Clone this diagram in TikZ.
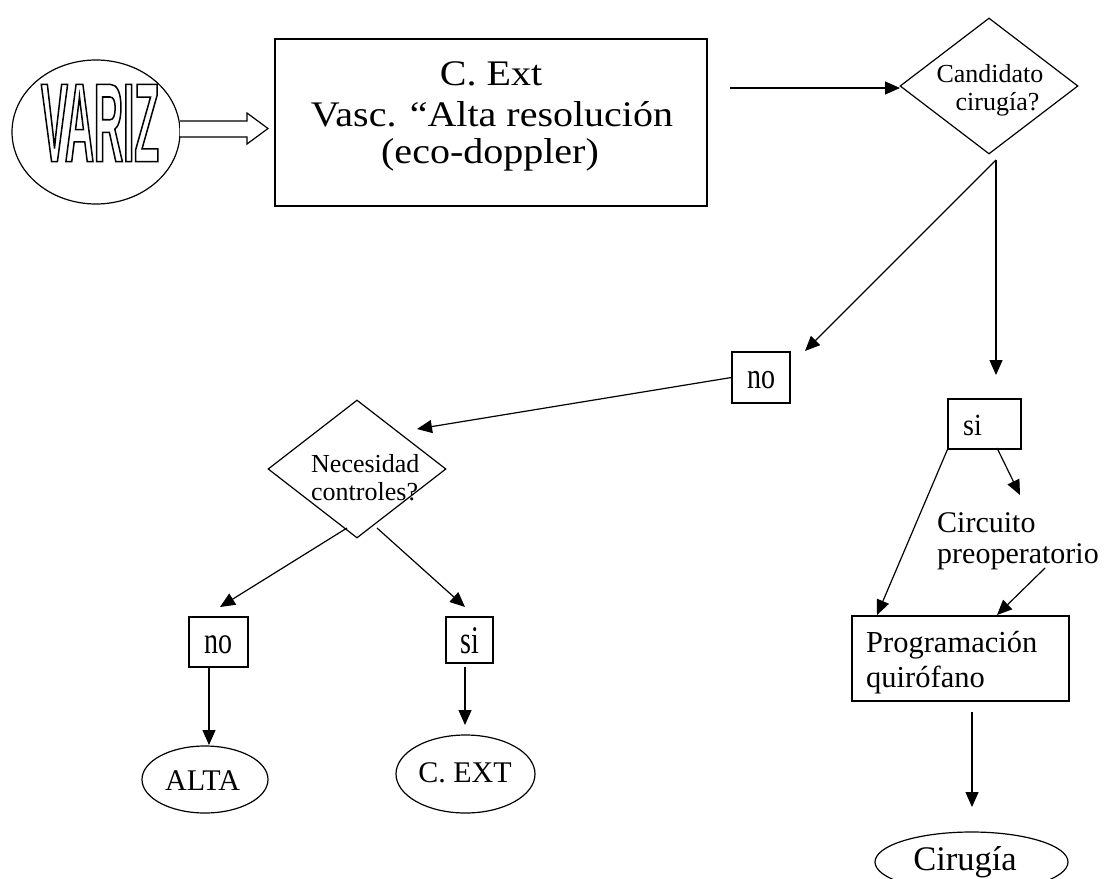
\documentclass[tikz,border=0pt]{standalone}
\usepackage{graphicx}
\usepackage{fontspec}
\setmainfont{Liberation Serif}
\newfontfamily\varizfont[FakeStretch=0.36]{Liberation Sans}
\usetikzlibrary{arrows.meta,shapes.geometric}
\newcommand{\fs}[1]{\fontsize{#1}{#1}\selectfont}
\newcommand{\vs}[2]{\scalebox{1}[#1]{#2}}
\tikzset{
  ln/.style={line width=1.2pt},
  arr/.style={ln,-{Triangle[length=15pt,width=13pt]}},
  box/.style={draw,ln,rectangle,inner sep=0pt},
  dia/.style={draw,ln,diamond,inner sep=0pt},
  ell/.style={draw,ln,ellipse,inner sep=0pt},
  txt/.style={inner sep=0pt,anchor=base},
  txtl/.style={inner sep=0pt,anchor=base west},
}
\begin{document}
\begin{tikzpicture}[x=1pt,y=-1pt]
\useasboundingbox (0,0) rectangle (1105,878);
\fill[white] (0,0) rectangle (1105,878);

% VARIZ
\node[ell,minimum width=168pt,minimum height=144pt] (variz) at (96,132) {};
\node[inner sep=0pt,text=white,font=\varizfont\bfseries\fontsize{112}{112}\selectfont] (vword) at (100,123)
  {\special{pdf:code 0 0 0 RG 1.5 w 2 Tr}VARIZ\special{pdf:code 0 Tr}};

% block arrow
\draw[ln,fill=white] (180,121) -- (247,121) -- (247,113) -- (268,128.5) -- (247,144) -- (247,137) -- (180,137);

% main box
\node[box,minimum width=432pt,minimum height=167pt] (main) at (491,122.5) {};
\node[txt,font=\fs{40}] (m1) at (491,85) {\vs{0.9}{C. Ext}};
\node[txt,font=\fs{40}] (m2) at (492,126) {\vs{0.9}{Vasc. “Alta resolución}};
\node[txt,font=\fs{40}] (m3) at (490,163) {\vs{0.9}{(eco-doppler)}};

% candidato diamond
\node[dia,minimum width=178pt,minimum height=136pt] (cand) at (989,86) {};
\node[txt,font=\fs{26}] (c1) at (990,82) {Candidato};
\node[txt,font=\fs{26}] (c2) at (997.5,110) {cirugía?};

% necesidad diamond
\node[dia,minimum width=178pt,minimum height=138pt] (nec) at (357,469) {};
\node[txtl,font=\fs{26}] (n1) at (311,472) {Necesidad};
\node[txtl,font=\fs{26}] (n2) at (311,500) {controles?};

% small boxes
\node[box,minimum width=58pt,minimum height=51pt] (no1) at (761,377.5) {};
\node[txt,font=\fs{28}] (no1t) at (761,388) {\vs{1.3}{no}};
\node[box,minimum width=73pt,minimum height=50pt] (si1) at (984.5,424) {};
\node[txtl,font=\fs{28}] (si1t) at (963,435) {\vs{1.1}{si}};
\node[box,minimum width=59pt,minimum height=50pt] (no2) at (218.5,642) {};
\node[txt,font=\fs{28}] (no2t) at (218,653) {\vs{1.35}{no}};
\node[box,minimum width=47pt,minimum height=46pt] (si2) at (469.5,640) {};
\node[txt,font=\fs{28}] (si2t) at (470,653) {\vs{1.4}{si}};

% end ellipses
\node[ell,minimum width=126pt,minimum height=67pt] (alta) at (205,779.5) {};
\node[txt,font=\fs{30}] (altat) at (202.5,790) {ALTA};
\node[ell,minimum width=139pt,minimum height=78pt] (cext) at (465.5,774) {};
\node[txt,font=\fs{30}] (cextt) at (465,782) {C. EXT};

% circuito
\node[txtl,font=\fs{30}] (ci1) at (937,532) {Circuito};
\node[txtl,font=\fs{30}] (ci2) at (937,563) {preoperatorio};

% programacion
\node[box,minimum width=217pt,minimum height=85pt] (prog) at (960.5,658.5) {};
\node[txtl,font=\fs{30.5}] (p1) at (866,652) {Programación};
\node[txtl,font=\fs{30.5}] (p2) at (866,687) {quirófano};

% cirugia
\node[ell,minimum width=193pt,minimum height=60pt] (cir) at (971.5,862) {};
\node[txt,font=\fs{34.5}] (cirt) at (965,870) {Cirugía};

% connector coordinates
\coordinate (a1s) at (730,88);
\coordinate (a1e) at (900,88);
\coordinate (cb) at (996,160);
\coordinate (a2e) at (805,351);
\coordinate (a3e) at (996,375);
\coordinate (a4e) at (417,429);
\coordinate (a5s) at (347,528);
\coordinate (a5e) at (220,607);
\coordinate (a6s) at (377,528);
\coordinate (a6e) at (465,607);
\coordinate (a7s) at (209,667);
\coordinate (a7e) at (209,745);
\coordinate (a8s) at (465,667);
\coordinate (a8e) at (465,725);
\coordinate (a9e) at (877,615);
\coordinate (a10s) at (997,448);
\coordinate (a10e) at (1020,495);
\coordinate (a11s) at (1045,568);
\coordinate (a11e) at (997,615);
\coordinate (a12s) at (972,712);
\coordinate (a12e) at (972,807);

\draw[arr] (a1s) -- (a1e);
\draw[arr] (cb) -- (a2e);
\draw[arr] (cb) -- (a3e);
\draw[arr] (no1.west) -- (a4e);
\draw[arr] (a5s) -- (a5e);
\draw[arr] (a6s) -- (a6e);
\draw[arr] (a7s) -- (a7e);
\draw[arr] (a8s) -- (a8e);
\draw[arr] (si1.south west) -- (a9e);
\draw[arr] (a10s) -- (a10e);
\draw[arr] (a11s) -- (a11e);
\draw[arr] (a12s) -- (a12e);
\end{tikzpicture}
\end{document}
